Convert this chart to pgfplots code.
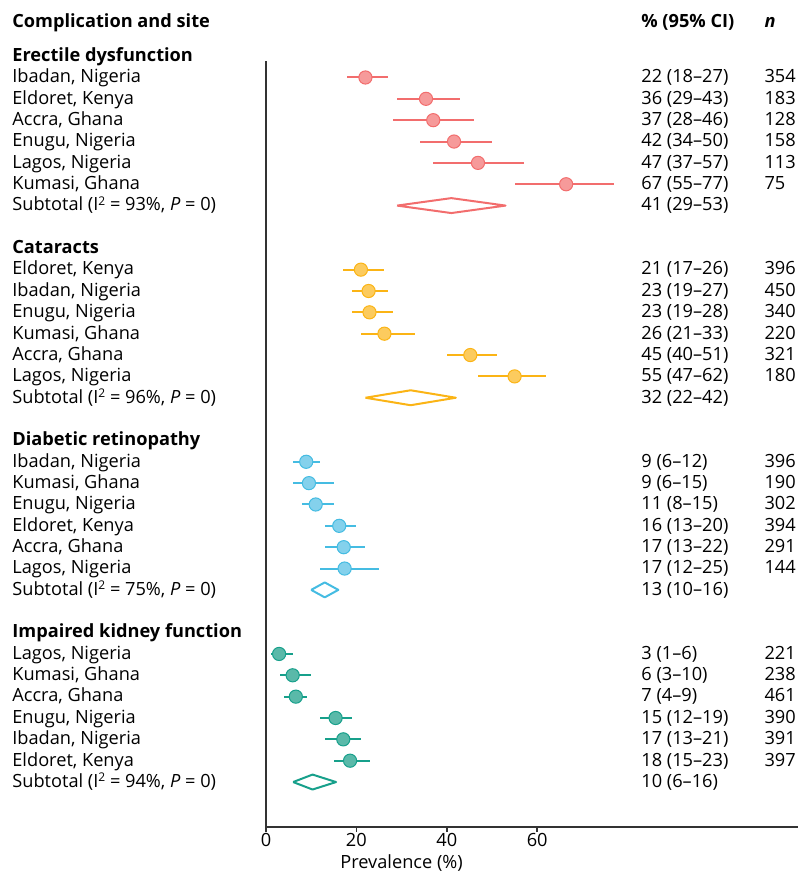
\documentclass[border=0pt]{standalone}
\usepackage{pgfplots}
\pgfplotsset{compat=1.18}
\usepackage{pgfplotstable}
\usepackage{fontspec}
\setmainfont{Open Sans}
\definecolor{edcol}{HTML}{F26D6D}
\definecolor{edfill}{HTML}{F69A9A}
\definecolor{catcol}{HTML}{FBB415}
\definecolor{catfill}{HTML}{FCCB5E}
\definecolor{drcol}{HTML}{45BCE2}
\definecolor{drfill}{HTML}{84D1EC}
\definecolor{kfcol}{HTML}{17A08B}
\definecolor{kffill}{HTML}{5AB9A9}
\definecolor{axcol}{HTML}{333333}

\pgfplotstableread{
x lo hi r
22 18 27 1
35.4 29 43 2
37 28 46 3
41.6 34 50 4
46.9 37 57 5
66.4 55 77 6
}\ed
\pgfplotstableread{
x lo hi r
21 17 26 10
22.7 19 27 11
22.9 19 28 12
26.2 21 33 13
45.2 40 51 14
55 47 62 15
}\cat
\pgfplotstableread{
x lo hi r
8.9 6 12 19
9.5 6 15 20
11 8 15 21
16.2 13 20 22
17.2 13 22 23
17.4 12 25 24
}\dr
\pgfplotstableread{
x lo hi r
2.9 1 6 28
5.9 3 10 29
6.6 4 9 30
15.4 12 19 31
17.1 13 21 32
18.6 15 23 33
}\kf

\newcommand\lab[2]{\node[anchor=mid west,inner sep=0pt] at (axis cs:-56.2,-#1) {#2};}
\newcommand\ci[3]{\node[anchor=mid west,inner sep=0pt] at (axis cs:82.96,-#1) {#2};
  \node[anchor=mid west,inner sep=0pt] at (axis cs:110.2,-#1) {#3};}
\newcommand\sq{\raisebox{0.6ex}{\fontsize{6}{6}\selectfont 2}}

\begin{document}
\begin{tikzpicture}
\begin{axis}[
  x=2.26pt, y=10.675pt,
  xmin=0, xmax=117.7, ymin=-36.1, ymax=-0.25,
  axis x line*=bottom, axis y line*=left,
  axis line style={axcol, line width=0.75pt, -},
  xtick={0,20,40,60}, ytick=\empty,
  tick align=outside, major tick length=2.6pt,
  tick style={axcol, line width=0.75pt},
  xticklabel style={font=\fontsize{9.1}{10}\selectfont, yshift=2.8pt},
  /pgf/number format/assume math mode=true,
  clip=false,
  font=\fontsize{9.1}{10}\selectfont,
  every axis plot/.append style={line width=1pt},
]
\path (axis cs:-58.85,2.63) rectangle (axis cs:117.7,-38.26);

% Erectile dysfunction
\addplot[only marks, mark=*, mark size=3.3pt, mark options={fill=edfill, draw=edcol, line width=0.5pt},
  error bars/.cd, x dir=both, x explicit, error mark=none, error bar style={edcol, line width=1pt}]
  table[x=x, y expr=-\thisrow{r}, x error plus expr=\thisrow{hi}-\thisrow{x}, x error minus expr=\thisrow{x}-\thisrow{lo}] {\ed};
\addplot[edcol, line width=1pt, line join=round, mark=none] coordinates {(29,-7) (41,-6.65) (53,-7) (41,-7.35) (29,-7)};

% Cataracts
\addplot[only marks, mark=*, mark size=3.3pt, mark options={fill=catfill, draw=catcol, line width=0.5pt},
  error bars/.cd, x dir=both, x explicit, error mark=none, error bar style={catcol, line width=1pt}]
  table[x=x, y expr=-\thisrow{r}, x error plus expr=\thisrow{hi}-\thisrow{x}, x error minus expr=\thisrow{x}-\thisrow{lo}] {\cat};
\addplot[catcol, line width=1pt, line join=round, mark=none] coordinates {(22,-16) (32,-15.65) (42,-16) (32,-16.35) (22,-16)};

% Diabetic retinopathy
\addplot[only marks, mark=*, mark size=3.3pt, mark options={fill=drfill, draw=drcol, line width=0.5pt},
  error bars/.cd, x dir=both, x explicit, error mark=none, error bar style={drcol, line width=1pt}]
  table[x=x, y expr=-\thisrow{r}, x error plus expr=\thisrow{hi}-\thisrow{x}, x error minus expr=\thisrow{x}-\thisrow{lo}] {\dr};
\addplot[drcol, line width=1pt, line join=round, mark=none] coordinates {(10,-25) (13,-24.65) (16,-25) (13,-25.35) (10,-25)};

% Kidney function
\addplot[only marks, mark=*, mark size=3.3pt, mark options={fill=kffill, draw=kfcol, line width=0.5pt},
  error bars/.cd, x dir=both, x explicit, error mark=none, error bar style={kfcol, line width=1pt}]
  table[x=x, y expr=-\thisrow{r}, x error plus expr=\thisrow{hi}-\thisrow{x}, x error minus expr=\thisrow{x}-\thisrow{lo}] {\kf};
\addplot[kfcol, line width=1pt, line join=round, mark=none] coordinates {(6,-34) (10.3,-33.65) (15.5,-34) (10.3,-34.35) (6,-34)};

% Headers
\lab{-1.59}{\textbf{Complication and site}}
\node[anchor=mid west,inner sep=0pt] at (axis cs:82.96,1.59) {\textbf{\% (95\% CI)}};
\node[anchor=mid west,inner sep=0pt] at (axis cs:110.2,1.59) {\textbf{\textit{n}}};

\lab{0}{\textbf{Erectile dysfunction}}
\lab{1}{Ibadan, Nigeria}\ci{1}{22 (18--27)}{354}
\lab{2}{Eldoret, Kenya}\ci{2}{36 (29--43)}{183}
\lab{3}{Accra, Ghana}\ci{3}{37 (28--46)}{128}
\lab{4}{Enugu, Nigeria}\ci{4}{42 (34--50)}{158}
\lab{5}{Lagos, Nigeria}\ci{5}{47 (37--57)}{113}
\lab{6}{Kumasi, Ghana}\ci{6}{67 (55--77)}{75}
\lab{7}{Subtotal (I\sq{} = 93\%, \textit{P} = 0)}\ci{7}{41 (29--53)}{}

\lab{9}{\textbf{Cataracts}}
\lab{10}{Eldoret, Kenya}\ci{10}{21 (17--26)}{396}
\lab{11}{Ibadan, Nigeria}\ci{11}{23 (19--27)}{450}
\lab{12}{Enugu, Nigeria}\ci{12}{23 (19--28)}{340}
\lab{13}{Kumasi, Ghana}\ci{13}{26 (21--33)}{220}
\lab{14}{Accra, Ghana}\ci{14}{45 (40--51)}{321}
\lab{15}{Lagos, Nigeria}\ci{15}{55 (47--62)}{180}
\lab{16}{Subtotal (I\sq{} = 96\%, \textit{P} = 0)}\ci{16}{32 (22--42)}{}

\lab{18}{\textbf{Diabetic retinopathy}}
\lab{19}{Ibadan, Nigeria}\ci{19}{9 (6--12)}{396}
\lab{20}{Kumasi, Ghana}\ci{20}{9 (6--15)}{190}
\lab{21}{Enugu, Nigeria}\ci{21}{11 (8--15)}{302}
\lab{22}{Eldoret, Kenya}\ci{22}{16 (13--20)}{394}
\lab{23}{Accra, Ghana}\ci{23}{17 (13--22)}{291}
\lab{24}{Lagos, Nigeria}\ci{24}{17 (12--25)}{144}
\lab{25}{Subtotal (I\sq{} = 75\%, \textit{P} = 0)}\ci{25}{13 (10--16)}{}

\lab{27}{\textbf{Impaired kidney function}}
\lab{28}{Lagos, Nigeria}\ci{28}{3 (1--6)}{221}
\lab{29}{Kumasi, Ghana}\ci{29}{6 (3--10)}{238}
\lab{30}{Accra, Ghana}\ci{30}{7 (4--9)}{461}
\lab{31}{Enugu, Nigeria}\ci{31}{15 (12--19)}{390}
\lab{32}{Ibadan, Nigeria}\ci{32}{17 (13--21)}{391}
\lab{33}{Eldoret, Kenya}\ci{33}{18 (15--23)}{397}
\lab{34}{Subtotal (I\sq{} = 94\%, \textit{P} = 0)}\ci{34}{10 (6--16)}{}

\node[anchor=mid,inner sep=0pt] at (axis cs:30,-37.8) {Prevalence (\%)};
\end{axis}
\end{tikzpicture}
\end{document}
